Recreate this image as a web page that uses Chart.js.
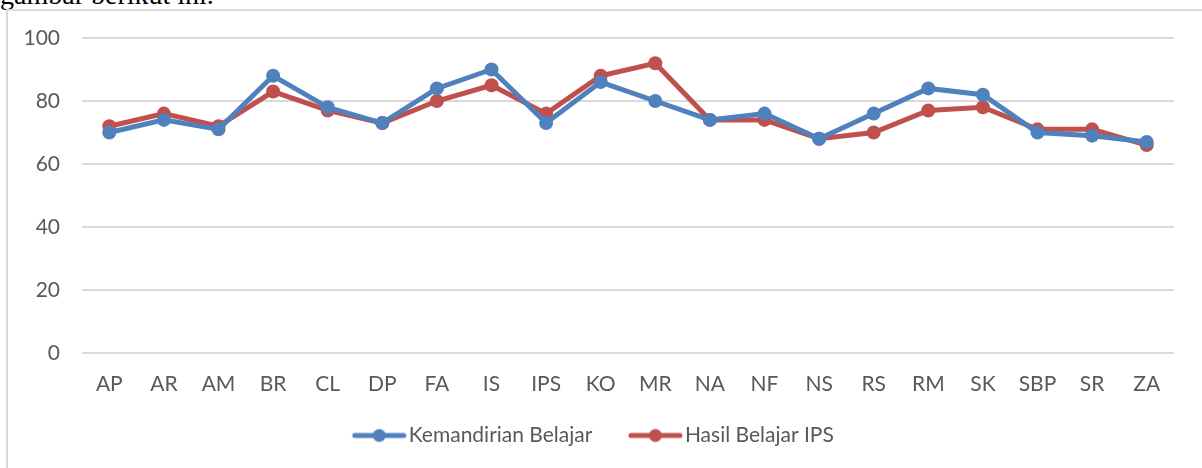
<!DOCTYPE html>
<html>
<head>
<meta charset="utf-8">
<script src="https://cdn.jsdelivr.net/npm/chart.js@4.4.0/dist/chart.umd.min.js"></script>
<style>
  html, body { margin: 0; padding: 0; background: #ffffff; }
  body { width: 1202px; height: 468px; position: relative; overflow: hidden; }
  #caption {
    position: absolute; left: 0; top: -19px;
    font-family: "Liberation Serif", "Times New Roman", serif;
    font-size: 28px; line-height: 28px; color: #000; white-space: nowrap;
  }
  #frame {
    position: absolute; left: 6px; top: 9px; right: -10px; bottom: -10px;
    border-left: 2px solid #d9d9d9; border-top: 2px solid #d9d9d9;
  }
  #wrap { position: absolute; left: 0; top: 0; width: 1202px; height: 468px; }
</style>
</head>
<body>
<div id="caption">gambar berikut ini.</div>
<div id="frame"></div>
<div id="wrap"><canvas id="c" width="1202" height="468"></canvas></div>
<script>
const categories = ["AP","AR","AM","BR","CL","DP","FA","IS","IPS","KO","MR","NA","NF","NS","RS","RM","SK","SBP","SR","ZA"];
const kemandirianBelajar = [70,74,71,88,78,73,84,90,73,86,80,74,76,68,76,84,82,70,69,67];
const hasilBelajarIPS = [72,76,72,83,77,73,80,85,76,88,92,74,74,68,70,77,78,71,71,66];
const seriesNames = ["Kemandirian Belajar","Hasil Belajar IPS"];
const yTicks = [0,20,40,60,80,100];

const BLUE = "#4f81bd";
const RED = "#c0504d";
const FONT_SIZE = 21;
const BOX_W = 72;

// legend icon: line with dot, placed so it ends just before the label text
function legendIcon(color) {
  const W = BOX_W + FONT_SIZE - 4;
  const cv = document.createElement("canvas");
  cv.width = W; cv.height = 16;
  const g = cv.getContext("2d");
  g.strokeStyle = color; g.lineWidth = 5; g.lineCap = "round";
  g.beginPath(); g.moveTo(W - 52, 8); g.lineTo(W - 3, 8); g.stroke();
  g.fillStyle = color;
  g.beginPath(); g.arc(W - 27.5, 8, 6.5, 0, Math.PI * 2); g.fill();
  return cv;
}

const FONT = { family: "Lato, sans-serif", size: FONT_SIZE };

const legendShift = {
  id: "legendShift",
  afterLayout(chart) {
    if (chart.legend) { chart.legend.left -= 7; chart.legend.right -= 7; }
  }
};

new Chart(document.getElementById("c"), {
  type: "line",
  data: {
    labels: categories,
    datasets: [
      { label: seriesNames[0], data: kemandirianBelajar, borderColor: BLUE, backgroundColor: BLUE,
        borderWidth: 5, pointRadius: 7, pointHoverRadius: 7, pointBackgroundColor: BLUE, pointBorderWidth: 0,
        tension: 0, pointStyle: "circle", legendIcon: legendIcon(BLUE) },
      { label: seriesNames[1], data: hasilBelajarIPS, borderColor: RED, backgroundColor: RED,
        borderWidth: 5, pointRadius: 7, pointHoverRadius: 7, pointBackgroundColor: RED, pointBorderWidth: 0,
        tension: 0, pointStyle: "circle", legendIcon: legendIcon(RED) }
    ]
  },
  plugins: [legendShift],
  options: {
    responsive: false,
    animation: false,
    devicePixelRatio: 1,
    layout: { padding: { left: 0, right: 28, top: 38, bottom: 12 } },
    scales: {
      x: {
        offset: true,
        grid: { display: false, drawTicks: false },
        border: { display: false },
        ticks: { color: "#595959", font: FONT, padding: 19, maxRotation: 0, autoSkip: false },
        afterFit: (s) => { s.height = 62; }
      },
      y: {
        min: 0, max: 100,
        afterBuildTicks: (s) => { s.ticks = yTicks.map(v => ({ value: v })); },
        grid: { color: "#d9d9d9", lineWidth: 2, drawTicks: false },
        border: { display: false },
        ticks: { color: "#595959", font: FONT, padding: 22 },
        afterFit: (s) => { s.width = 82; }
      }
    },
    plugins: {
      tooltip: { enabled: false },
      legend: {
        position: "bottom",
        labels: {
          color: "#595959", font: FONT, usePointStyle: true, pointStyleWidth: BOX_W, boxHeight: 16,
          padding: 10,
          generateLabels: (chart) => chart.data.datasets.map((ds, i) => ({
            text: ds.label, pointStyle: ds.legendIcon, fillStyle: ds.borderColor,
            strokeStyle: ds.borderColor, lineWidth: 0, hidden: false, datasetIndex: i,
            fontColor: "#595959"
          }))
        }
      }
    }
  }
});
</script>
</body>
</html>
